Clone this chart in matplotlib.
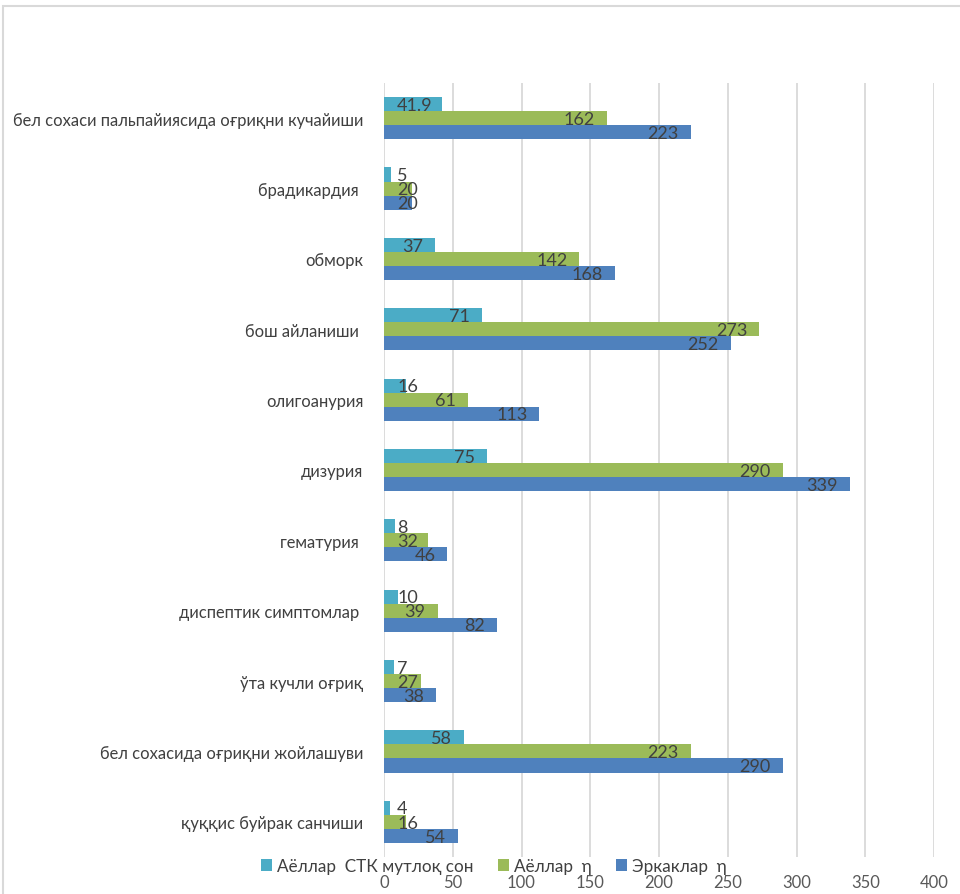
import matplotlib
matplotlib.use('Agg')
import matplotlib.pyplot as plt
from matplotlib.patches import Rectangle
import numpy as np

plt.rcParams['font.family'] = ['Lato', 'DejaVu Sans']

# categories listed bottom -> top (as drawn)
categories = [
    'қуққис буйрак санчиши',
    'бел сохасида оғриқни жойлашуви',
    'ўта кучли оғриқ',
    'диспептик симптомлар ',
    'гематурия ',
    'дизурия',
    'олигоанурия',
    'бош айланиши ',
    'обморк',
    'брадикардия ',
    'бел сохаси пальпайиясида оғриқни кучайиши',
]
stk_women = [4, 58, 7, 10, 8, 75, 16, 71, 37, 5, 41.9]
women = [16, 223, 27, 39, 32, 290, 61, 273, 142, 20, 162]
men = [54, 290, 38, 82, 46, 339, 113, 252, 168, 20, 223]

series_names = ['Аёллар  СТК мутлоқ сон', 'Аёллар  η', 'Эркаклар  η']
colors = ['#4BACC6', '#9BBB59', '#4F81BD']
x_ticks = [0, 50, 100, 150, 200, 250, 300, 350, 400]

fig = plt.figure(figsize=(9.6, 8.95), dpi=100)
ax = fig.add_axes([384 / 960, 1 - 858 / 895, 550 / 960, 774 / 895])

# outer chart border (partly cropped in the original)
fig.add_artist(Rectangle((3 / 960, -0.1), 1.2, 1 - 7 / 895 + 0.1,
                         transform=fig.transFigure, fill=False,
                         edgecolor='#D9D9D9', linewidth=1.5))

y = np.arange(len(categories))
h = 0.2
containers = []
for vals, off, col, name in zip([stk_women, women, men], [h, 0, -h],
                                colors, series_names):
    c = ax.barh(y + off, vals, height=h, color=col, label=name)
    containers.append(c)

ax.set_xlim(0, 400)
ax.set_ylim(-0.5, len(categories) - 0.5)
ax.set_xticks(x_ticks)
ax.set_yticks(y)
ax.set_yticklabels(categories, fontsize=11.9, color='#404040')
ax.tick_params(axis='x', length=0, pad=12, labelsize=12, labelcolor='#595959')
ax.tick_params(axis='y', length=0, pad=15)
ax.grid(axis='x', color='#D9D9D9', linewidth=1.3)
ax.set_axisbelow(True)
for s in ax.spines.values():
    s.set_visible(False)

# data labels: inside end, pushed right of the base when they don't fit
fig.canvas.draw()
r = fig.canvas.get_renderer()
ax_left = ax.get_window_extent(r).x0
for c, vals in zip(containers, [stk_women, women, men]):
    for bar, v in zip(c, vals):
        yc = bar.get_y() + bar.get_height() / 2
        t = ax.annotate(f'{v:g}', (v, yc), xytext=(-8.6, -0.5),
                        textcoords='offset points', ha='right', va='center',
                        fontsize=13, color='#404040')
        bb = t.get_window_extent(r)
        if bb.x0 < ax_left + 13:
            t.remove()
            ax.annotate(f'{v:g}', (0, yc), xytext=(9.4, -0.5),
                        textcoords='offset points', ha='left',
                        va='center', fontsize=13, color='#404040')

fig.legend(handles=containers, labels=series_names, loc='center left',
           bbox_to_anchor=(261 / 960, 1 - 867 / 895), ncol=3,
           frameon=False, fontsize=12.3, handlelength=0.62,
           handleheight=0.62, handletextpad=0.3, columnspacing=1.45,
           labelcolor='#404040', borderaxespad=0, borderpad=0)

fig.savefig('out.png', dpi=100, facecolor='white')
